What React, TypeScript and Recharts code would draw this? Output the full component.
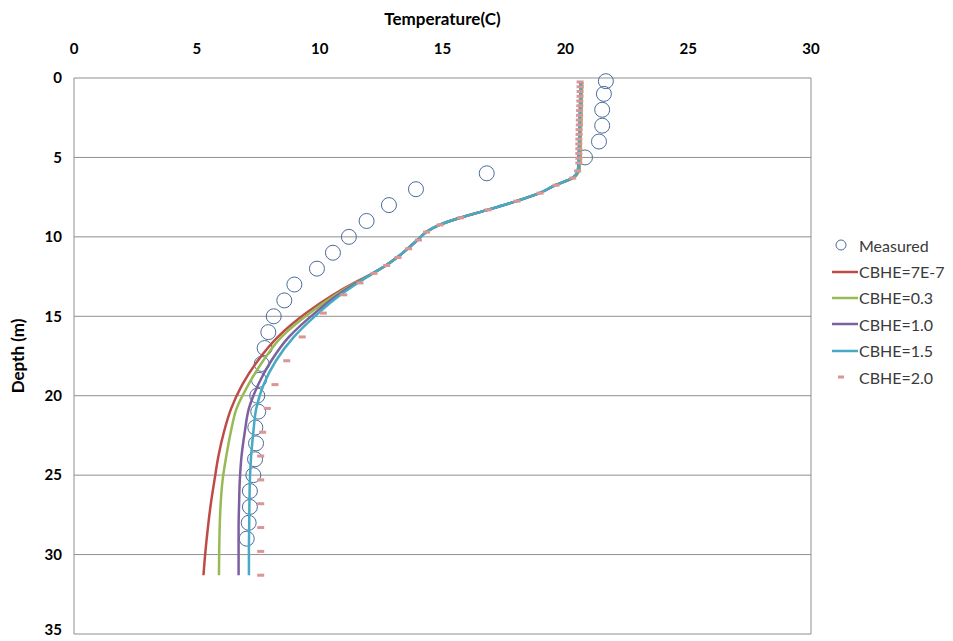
import React from "react";
import {
  ComposedChart,
  Scatter,
  XAxis,
  YAxis,
  CartesianGrid,
  ReferenceLine,
} from "recharts";

// measured profile
const measuredDepth = [
  0.2, 1, 2, 3, 4, 5, 6, 7, 8, 9, 10, 11, 12, 13, 14, 15, 16, 17, 18, 19, 20,
  21, 22, 23, 24, 25, 26, 27, 28, 29,
];
const measuredTemp = [
  21.65, 21.57, 21.5, 21.5, 21.37, 20.8, 16.8, 13.92, 12.82, 11.91, 11.19,
  10.54, 9.89, 8.97, 8.56, 8.13, 7.91, 7.76, 7.64, 7.53, 7.46, 7.5, 7.38, 7.41,
  7.37, 7.3, 7.16, 7.16, 7.11, 7.03,
];

// model nodes (shared by all CBHE runs)
const modelDepth = [
  0.25, 0.55, 0.85, 1.15, 1.45, 1.75, 2.05, 2.35, 2.65, 2.95, 3.25, 3.55, 3.85,
  4.15, 4.45, 4.75, 5.05, 5.35, 5.85, 6.3, 6.75, 7.25, 7.75, 8.3, 8.8, 9.25,
  9.7, 10.2, 10.75, 11.3, 11.8, 12.3, 12.9, 13.65, 14.8, 16.3, 17.8, 19.3, 20.8,
  22.3, 23.8, 25.3, 26.8, 28.3, 29.8, 31.3,
];

const upperRed = [
  20.68, 20.68, 20.67, 20.67, 20.66, 20.66, 20.65, 20.65, 20.64, 20.64, 20.63,
  20.63, 20.62, 20.62, 20.62, 20.62, 20.62, 20.6, 20.55, 20.3, 19.6, 18.95,
  18.02, 16.84, 15.72, 14.88, 14.33, 13.98, 13.58, 13.15, 12.69, 12.16,
];
const upperCommon = [
  20.62, 20.62, 20.61, 20.61, 20.6, 20.6, 20.59, 20.59, 20.58, 20.58, 20.57,
  20.57, 20.56, 20.56, 20.55, 20.55, 20.55, 20.54, 20.5, 20.28, 19.58, 18.94,
  18.0, 16.84, 15.72, 14.88, 14.33, 13.98, 13.58, 13.15, 12.69, 12.16,
];

const cbhe7e7 = [
  ...upperRed,
  11.4, 10.55, 9.45, 8.3, 7.48, 6.85, 6.4, 6.1, 5.88, 5.72, 5.57, 5.45, 5.35,
  5.27,
];
const cbhe03 = [
  ...upperRed,
  11.45, 10.65, 9.6, 8.45, 7.7, 7.1, 6.62, 6.38, 6.2, 6.05, 5.97, 5.93, 5.91,
  5.9,
];
const cbhe10 = [
  ...upperCommon,
  11.5, 10.75, 9.8, 8.75, 8.03, 7.5, 7.12, 6.95, 6.82, 6.75, 6.72, 6.7, 6.7,
  6.7,
];
const cbhe15 = [
  ...upperCommon,
  11.55, 10.85, 9.95, 8.95, 8.22, 7.72, 7.42, 7.3, 7.21, 7.16, 7.14, 7.13, 7.12,
  7.12,
];
const cbhe20 = [
  20.6, 20.6, 20.6, 20.6, 20.59, 20.59, 20.58, 20.58, 20.57, 20.57, 20.56,
  20.56, 20.55, 20.55, 20.55, 20.55, 20.55, 20.55, 20.5, 20.3, 19.62, 18.97,
  18.03, 16.86, 15.74, 14.9, 14.35, 14.02, 13.62, 13.19, 12.73, 12.21, 11.64,
  10.98, 10.15, 9.29, 8.66, 8.18, 7.87, 7.68, 7.6, 7.6, 7.6, 7.6, 7.6, 7.6,
];

const temperatureTicks = [0, 5, 10, 15, 20, 25, 30];
const depthTicks = [0, 5, 10, 15, 20, 25, 30, 35];

const toPoints = (temps: number[], depths: number[]) =>
  temps.map((t, i) => ({ t, d: depths[i] }));

const measured = toPoints(measuredTemp, measuredDepth);

const lines = [
  { name: "CBHE=7E-7", color: "#be4b48", values: cbhe7e7 },
  { name: "CBHE=0.3", color: "#98b954", values: cbhe03 },
  { name: "CBHE=1.0", color: "#7d60a0", values: cbhe10 },
  { name: "CBHE=1.5", color: "#46aac5", values: cbhe15 },
];

const FONT = "Lato, 'Open Sans', sans-serif";

const OpenCircle = (props: any) => (
  <circle
    cx={props.cx}
    cy={props.cy}
    r={7.5}
    fill="none"
    stroke="#4a6b9d"
    strokeWidth={1}
  />
);

const PinkDash = (props: any) => (
  <rect x={props.cx - 3.5} y={props.cy - 1.5} width={7} height={3} fill="#d99694" />
);

const NoDot = () => <g />;

function LegendBox() {
  const rows = [
    { name: "Measured", kind: "circle", color: "#4a6b9d" },
    ...lines.map((l) => ({ name: l.name, kind: "line", color: l.color })),
    { name: "CBHE=2.0", kind: "dash", color: "#d99694" },
  ];
  return (
    <div
      style={{
        position: "absolute",
        left: 824,
        top: 224,
        fontFamily: FONT,
        fontSize: 16,
        color: "#3a3a3a",
      }}
    >
      {rows.map((r) => (
        <div
          key={r.name}
          style={{ display: "flex", alignItems: "center", height: 26.4, whiteSpace: "nowrap" }}
        >
          <svg width={26} height={14} style={{ marginRight: 1 }}>
            {r.kind === "circle" && (
              <circle cx={9} cy={7} r={5} fill="none" stroke={r.color} strokeWidth={1} />
            )}
            {r.kind === "line" && (
              <line x1={0} y1={7} x2={26} y2={7} stroke={r.color} strokeWidth={2.5} />
            )}
            {r.kind === "dash" && (
              <rect x={6} y={5.5} width={6} height={3} fill={r.color} />
            )}
          </svg>
          <span>{r.name}</span>
        </div>
      ))}
    </div>
  );
}

export default function App() {
  return (
    <div style={{ position: "relative", width: 940, height: 630 }}>
      <ComposedChart
        width={940}
        height={630}
        margin={{ top: 0, right: 137, bottom: 4, left: 0 }}
      >
        <CartesianGrid vertical={false} stroke="#8f8f8f" />
        <XAxis
          type="number"
          dataKey="t"
          orientation="top"
          domain={[0, 30]}
          ticks={temperatureTicks}
          height={70}
          axisLine={false}
          tickLine={false}
          tickSize={0}
          tickMargin={24}
          tick={{ fill: "#000", fontSize: 15, fontWeight: 700, fontFamily: FONT }}
          label={{
            value: "Temperature(C)",
            position: "insideTop",
            offset: 5,
            style: { fill: "#000", fontSize: 17, fontWeight: 700, fontFamily: FONT },
          }}
        />
        <YAxis
          type="number"
          dataKey="d"
          reversed
          domain={[0, 35]}
          ticks={depthTicks}
          width={66}
          axisLine={{ stroke: "#8f8f8f" }}
          tickLine={false}
          tickSize={0}
          tickMargin={12}
          tick={{ fill: "#000", fontSize: 15, fontWeight: 700, fontFamily: FONT }}
          label={{
            value: "Depth (m)",
            angle: -90,
            position: "insideLeft",
            offset: 10,
            style: {
              fill: "#000",
              fontSize: 17,
              fontWeight: 700,
              fontFamily: FONT,
              textAnchor: "middle",
            },
          }}
        />
        <ReferenceLine x={30} stroke="#8f8f8f" />
        <Scatter
          name="Measured"
          data={measured}
          shape={OpenCircle}
          isAnimationActive={false}
        />
        {lines.map((l) => (
          <Scatter
            key={l.name}
            name={l.name}
            data={toPoints(l.values, modelDepth)}
            line={{ stroke: l.color, strokeWidth: 2.5 }}
            lineJointType="monotoneY"
            shape={NoDot}
            isAnimationActive={false}
          />
        ))}
        <Scatter
          name="CBHE=2.0"
          data={toPoints(cbhe20, modelDepth)}
          shape={PinkDash}
          isAnimationActive={false}
        />
      </ComposedChart>
      <LegendBox />
    </div>
  );
}
